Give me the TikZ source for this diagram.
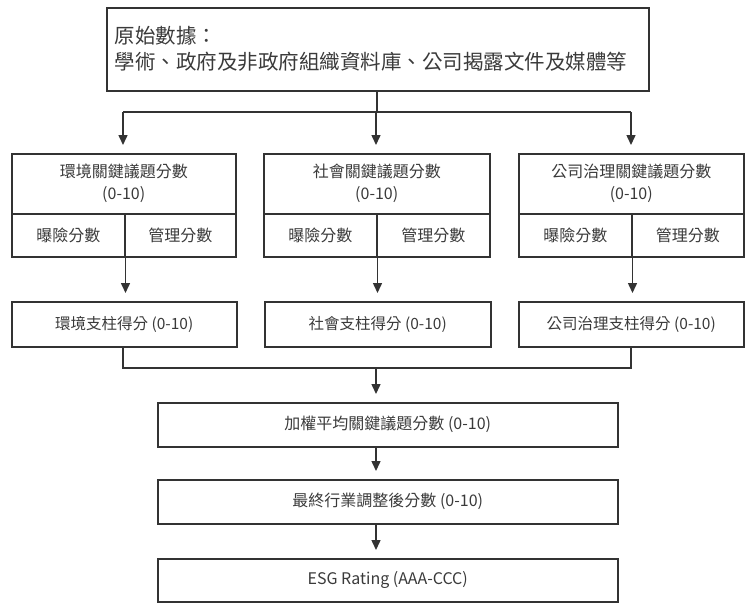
\documentclass[tikz,border=0pt]{standalone}
\usepackage{fontspec}
\setmainfont{Noto Sans CJK TC}
\usetikzlibrary{arrows.meta}
\definecolor{ink}{HTML}{333333}
\definecolor{txt}{HTML}{3A3A3A}
\tikzset{
  box/.style={draw=ink, line width=1.5pt, inner sep=0pt, anchor=north west, text=txt, align=center},
  conn/.style={draw=ink, line width=1.5pt},
  arr/.style={conn, -{Triangle[width=9pt,length=10pt]}, shorten >=8pt},
  fa/.style={font=\fontsize{16}{22}\selectfont},
  fb/.style={font=\fontsize{15.5}{20}\selectfont}
}
\begin{document}
\begin{tikzpicture}[x=1pt,y=-1pt]
\useasboundingbox (0,0) rectangle (747,603);
% top
\node[box, minimum width=542pt, minimum height=83pt, text width=526pt, align=left,
  font=\fontsize{20.5}{26}\selectfont] (top) at (106,7)
  {原始數據：\\學術、政府及非政府組織資料庫、公司揭露文件及媒體等};
% row 2 headers
\node[box, fa, minimum width=224pt, minimum height=60pt] (eh) at (11,153) {環境關鍵議題分數\\(0-10)};
\node[box, fa, minimum width=226pt, minimum height=60pt] (sh) at (263,153) {社會關鍵議題分數\\(0-10)};
\node[box, fa, minimum width=225pt, minimum height=60pt] (gh) at (518,153) {公司治理關鍵議題分數\\(0-10)};
% row 2 cells
\node[box, fa, minimum width=113pt, minimum height=43pt] (er) at (11,213) {曝險分數};
\node[box, fa, minimum width=111pt, minimum height=43pt] (em) at (124,213) {管理分數};
\node[box, fa, minimum width=113pt, minimum height=43pt] (sr) at (263,213) {曝險分數};
\node[box, fa, minimum width=113pt, minimum height=43pt] (sm) at (376,213) {管理分數};
\node[box, fa, minimum width=113pt, minimum height=43pt] (gr) at (518,213) {曝險分數};
\node[box, fa, minimum width=112pt, minimum height=43pt] (gm) at (631,213) {管理分數};
% row 3
\node[box, fb, minimum width=225pt, minimum height=45pt] (ep) at (11,301) {環境支柱得分 (0-10)};
\node[box, fb, minimum width=226pt, minimum height=45pt] (sp) at (264,301) {社會支柱得分 (0-10)};
\node[box, fb, minimum width=225pt, minimum height=45pt] (gp) at (518,301) {公司治理支柱得分 (0-10)};
% lower boxes
\node[box, fa, minimum width=460pt, minimum height=44pt] (wa) at (157,402) {加權平均關鍵議題分數 (0-10)};
\node[box, fa, minimum width=460pt, minimum height=44pt] (fi) at (157,479) {最終行業調整後分數 (0-10)};
\node[box, fa, minimum width=460pt, minimum height=43pt] (es) at (157,558) {ESG Rating (AAA-CCC)};
% coordinates
\coordinate (j1) at (377,112);
\coordinate (j1l) at (123,112);
\coordinate (j1r) at (631,112);
\coordinate (j2) at (376,368);
\coordinate (j2l) at (123,368);
\coordinate (j2r) at (631,368);
% top split
\draw[conn] (top.south -| j1) -- (j1);
\draw[conn] (j1l) -- (j1r);
\draw[arr] (j1l) -- (j1l |- eh.north);
\draw[arr] (376,112) -- (376,153);
\draw[arr] (j1r) -- (j1r |- gh.north);
% row 2 to row 3
\draw[arr] (er.south east) -- (er.south east |- ep.north);
\draw[arr] (sr.south east) -- (sr.south east |- sp.north);
\draw[arr] (gr.south east) -- (gr.south east |- gp.north);
% merge
\draw[conn] (ep.south -| j2l) -- (j2l) -- (j2r) -- (gp.south -| j2r);
\draw[arr] (j2) -- (j2 |- wa.north);
\draw[arr] (wa.south -| j2) -- (j2 |- fi.north);
\draw[arr] (fi.south -| j2) -- (j2 |- es.north);
\end{tikzpicture}
\end{document}
